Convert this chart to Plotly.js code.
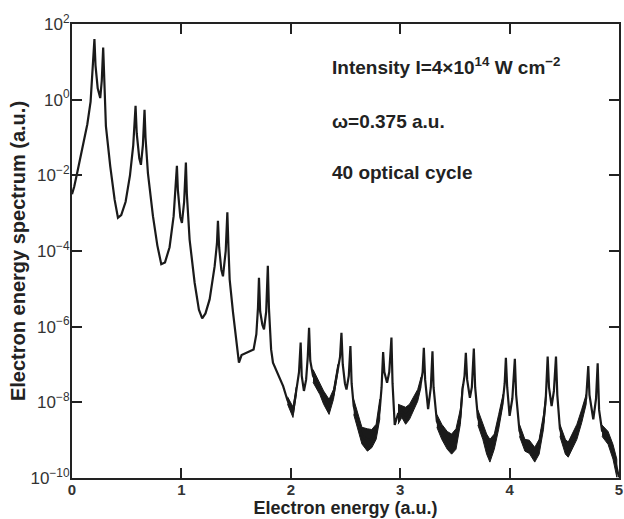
<!DOCTYPE html>
<html>
<head>
<meta charset="utf-8">
<script src="https://cdn.plot.ly/plotly-3.0.1.min.js"></script>
<style>html,body{margin:0;padding:0;background:#fff;}#chart{width:624px;height:519px;}</style>
</head>
<body>
<div id="chart"></div>
<script>
// Electron energy (a.u.)
const energy = [
0.00,0.02,0.05,0.08,0.11,0.14,0.17,0.19,0.205,0.215,0.235,0.258,0.272,0.285,0.295,0.31,0.35,0.39,0.42,0.45,
0.49,0.53,0.56,0.575,0.581,0.592,0.615,0.63,0.648,0.663,0.672,0.694,0.74,0.78,0.816,0.85,0.892,0.929,0.95,0.959,
0.968,0.99,1.005,1.025,1.041,1.05,1.075,1.121,1.16,1.19,1.22,1.258,1.304,1.325,1.334,1.345,1.365,1.38,1.405,1.42,
1.43,1.441,1.471,1.496,1.526,1.55,1.6,1.66,1.685,1.70,1.709,1.72,1.74,1.755,1.775,1.79,1.80,1.82,1.837,1.88,
1.93,1.97,2.02,2.05,2.075,2.09,2.10,2.12,2.14,2.155,2.167,2.178,2.19,2.203,2.265,2.35,2.39,2.43,2.45,2.463,
2.475,2.495,2.509,2.53,2.545,2.556,2.575,2.60,2.65,2.70,2.74,2.78,2.813,2.83,2.844,2.855,2.88,2.90,2.92,2.93,
2.95,2.98,3.015,3.05,3.085,3.12,3.16,3.19,3.205,3.216,3.228,3.255,3.28,3.295,3.305,3.335,3.38,3.43,3.47,3.51,
3.55,3.57,3.588,3.60,3.612,3.637,3.655,3.673,3.685,3.71,3.755,3.79,3.82,3.86,3.90,3.94,3.955,3.966,3.978,4.00,
4.025,4.048,4.06,4.09,4.14,4.18,4.23,4.27,4.31,4.33,4.348,4.36,4.384,4.405,4.424,4.436,4.46,4.51,4.536,4.57,
4.615,4.66,4.70,4.719,4.73,4.765,4.79,4.805,4.818,4.845,4.9,4.945,4.98,5.0
];
// Electron energy spectrum (a.u.)
const spectrum = [
3.16e-3,5.0e-3,1.26e-2,3.16e-2,7.94e-2,0.224,0.891,5.62,39.8,7.94,2.0,1.1,3.16,24,2.51,0.2,1.7e-2,2.24e-3,7.59e-4,8.91e-4,
2.0e-3,1e-2,6.31e-2,0.251,0.692,0.126,2.82e-2,1.9e-2,6.31e-2,0.537,0.1,1.15e-2,8.32e-4,1.41e-4,4.47e-5,5.01e-5,1.26e-4,8.32e-4,5.01e-3,1.78e-2,
3.98e-3,7.94e-4,5.5e-4,2.0e-3,2.19e-2,3.16e-3,2.0e-4,1.45e-5,2.82e-6,1.66e-6,2.24e-6,5.25e-6,3.98e-5,1.58e-4,6.31e-4,1.26e-4,3.16e-5,2.14e-5,1e-4,1.05e-3,
1.26e-4,1.78e-5,2.51e-6,5.01e-7,1.12e-7,1.78e-7,2.09e-7,2.51e-7,6.31e-7,3.16e-6,1.95e-5,2.51e-6,1.12e-6,8.51e-7,2.51e-6,4.07e-5,3.16e-6,2.51e-7,1.12e-7,5.62e-8,
2.69e-8,1.12e-8,5.37e-9,2.0e-8,6.31e-8,3.8e-7,5.01e-8,2.0e-8,3.98e-8,1.58e-7,9.33e-7,1.26e-7,7.94e-8,5.01e-8,2.34e-8,7.59e-9,1.58e-8,7.94e-8,1.58e-7,6.92e-7,
1e-7,3.16e-8,2.19e-8,5.01e-8,3.09e-7,3.16e-8,7.94e-9,4.17e-9,1.32e-9,1e-9,1.12e-9,1.66e-9,6.31e-9,2.51e-8,2.14e-7,6.31e-8,3.31e-8,6.31e-8,5.13e-7,3.16e-8,
2.51e-9,5.01e-9,5.62e-9,4.47e-9,5.62e-9,8.91e-9,1.58e-8,3.39e-8,6.31e-8,2.75e-7,3.98e-8,6.61e-9,2.51e-8,2.24e-7,2.51e-8,3.16e-9,1.58e-9,1e-9,7.94e-10,1e-9,
4.17e-9,2.24e-8,5.01e-8,2.04e-7,3.98e-8,1.32e-8,2.51e-8,2.63e-7,2.51e-8,3.98e-9,1.66e-9,7.94e-10,5.25e-10,1e-9,3.16e-9,1.2e-8,3.16e-8,1.51e-7,2.51e-8,4.37e-9,
1.26e-8,1.41e-7,1.58e-8,1.78e-9,7.41e-10,7.08e-10,4.17e-10,7.94e-10,3.16e-9,1.12e-8,1.62e-7,2.51e-8,7.94e-9,2.0e-8,1.62e-7,1.58e-8,2.0e-9,6.76e-10,5.62e-10,1e-9,
1.58e-9,4.47e-9,1.26e-8,9.12e-8,1.58e-8,3.55e-9,1.26e-8,1.07e-7,6.31e-9,1.78e-9,1.15e-9,5.01e-10,2.0e-10,1.05e-10
];
// Noise band in the valleys (null separates valleys)
const bandEnergy = [
1.97,2.02,2.05,null,
2.203,2.265,2.30,2.35,2.39,2.43,null,
2.575,2.60,2.65,2.70,2.74,2.78,2.813,null,
2.98,3.015,3.05,3.085,3.12,3.16,3.19,null,
3.335,3.38,3.43,3.47,3.51,3.55,3.57,null,
3.71,3.755,3.79,3.82,3.86,3.90,3.94,null,
4.09,4.14,4.18,4.23,4.27,4.31,4.33,null,
4.46,4.51,4.536,4.57,4.615,4.66,4.70,null,
4.845,4.9,4.945,4.98
];
const bandHigh = [
1.41e-8,7.59e-9,2.51e-8,null,
7.41e-8,3.39e-8,2.0e-8,1.2e-8,2.19e-8,1e-7,null,
1.2e-8,6.61e-9,2.19e-9,2.0e-9,1.91e-9,2.63e-9,1.2e-8,null,
8.91e-9,7.94e-9,7.41e-9,8.91e-9,1.35e-8,2.19e-8,4.57e-8,null,
4.79e-9,2.63e-9,1.7e-9,1.45e-9,2.0e-9,6.61e-9,3.02e-8,null,
6.31e-9,2.63e-9,1.45e-9,1.05e-9,1.45e-9,4.79e-9,1.62e-8,null,
2.63e-9,1.05e-9,1e-9,6.46e-10,1.05e-9,4.79e-9,1.62e-8,null,
2.63e-9,1.05e-9,8.91e-10,1.45e-9,2.63e-9,6.61e-9,1.62e-8,null,
2.51e-9,1.7e-9,7.76e-10,3.16e-10
];
const bandLow = [
8.91e-9,3.98e-9,1.58e-8,null,
3.39e-8,1.62e-8,8.91e-9,4.79e-9,1.2e-8,6.31e-8,null,
4.79e-9,2.63e-9,7.94e-10,5.13e-10,6.31e-10,1.05e-9,3.55e-9,null,
2.63e-9,3.98e-9,2.63e-9,3.55e-9,5.75e-9,1.07e-8,2.51e-8,null,
2.19e-9,1.05e-9,5.75e-10,4.27e-10,5.75e-10,2.63e-9,1.62e-8,null,
2.51e-9,1.05e-9,4.27e-10,2.63e-10,5.75e-10,1.95e-9,8.91e-9,null,
1.26e-9,5.13e-10,4.47e-10,2.63e-10,4.27e-10,1.95e-9,8.91e-9,null,
1.26e-9,4.27e-10,3.55e-10,5.75e-10,1.05e-9,2.95e-9,8.91e-9,null,
1.26e-9,7.76e-10,3.16e-10,1.05e-10
];
const yTickVals = [1e-10,1e-8,1e-6,1e-4,1e-2,1,1e2];
const yTickText = ['10<sup>−10</sup>','10<sup>−8</sup>','10<sup>−6</sup>','10<sup>−4</sup>','10<sup>−2</sup>','10<sup>0</sup>','10<sup>2</sup>'];
const xTickVals = [0,1,2,3,4,5];
const xTickText = ['0','1','2','3','4','5'];
const notes = ['Intensity I=4×10<sup>14</sup> W cm<sup>−2</sup>','ω=0.375 a.u.','40 optical cycle'];

// Build closed polygons for each valley band
const polyX = [], polyY = [];
let seg = [];
function flush(){
  if(!seg.length) return;
  seg.forEach(i=>{polyX.push(bandEnergy[i]); polyY.push(bandHigh[i]);});
  seg.slice().reverse().forEach(i=>{polyX.push(bandEnergy[i]); polyY.push(bandLow[i]);});
  polyX.push(null); polyY.push(null);
  seg = [];
}
bandEnergy.forEach((v,i)=>{ if(v===null) flush(); else seg.push(i); });
flush();

const ink = '#1a1a1a';
const traces = [
  {x: polyX, y: polyY, type:'scatter', mode:'lines', fill:'toself', fillcolor: ink,
   line:{color: ink, width:1}, connectgaps:false, hoverinfo:'skip', showlegend:false},
  {x: energy, y: spectrum, type:'scatter', mode:'lines',
   line:{color: ink, width:2.2}, showlegend:false}
];
const font = 'Liberation Sans, Arial, Helvetica, sans-serif';
const layout = {
  width:624, height:519,
  margin:{l:72, r:5, t:24, b:41},
  paper_bgcolor:'#fff', plot_bgcolor:'#fff',
  font:{family:font, color:'#222'},
  xaxis:{range:[0,5], tickvals:xTickVals, ticktext:xTickText, ticks:'inside', ticklen:10, tickwidth:2,
    tickcolor:'#222', showline:true, linewidth:2, linecolor:'#222', mirror:'ticks', showgrid:false, zeroline:false,
    tickfont:{size:15, family:font, color:'#333', weight:'bold'}, ticklabelstandoff:-3,
    title:{text:'Electron energy (a.u.)', font:{size:18, family:font, color:'#222', weight:'bold'}, standoff:3}},
  yaxis:{type:'log', range:[-10,2], tickvals:yTickVals, ticktext:yTickText, ticks:'inside', ticklen:10, tickwidth:2,
    tickcolor:'#222', showline:true, linewidth:2, linecolor:'#222', mirror:'ticks', showgrid:false, zeroline:false,
    tickfont:{size:17, family:font, color:'#333'}, ticklabelstandoff:-3,
    title:{text:'Electron energy spectrum (a.u.)', font:{size:20, family:font, color:'#222', weight:'bold'}, standoff:0}},
  annotations: notes.map((t,i)=>({xref:'paper', yref:'paper', x:0.472, y:[0.908,0.786,0.674][i],
    xanchor:'left', yanchor:'middle', showarrow:false, text:t,
    font:{size:19, family:font, color:'#222', weight:'bold'}}))
};
Plotly.newPlot('chart', traces, layout, {staticPlot:true, displayModeBar:false});
</script>
</body>
</html>
